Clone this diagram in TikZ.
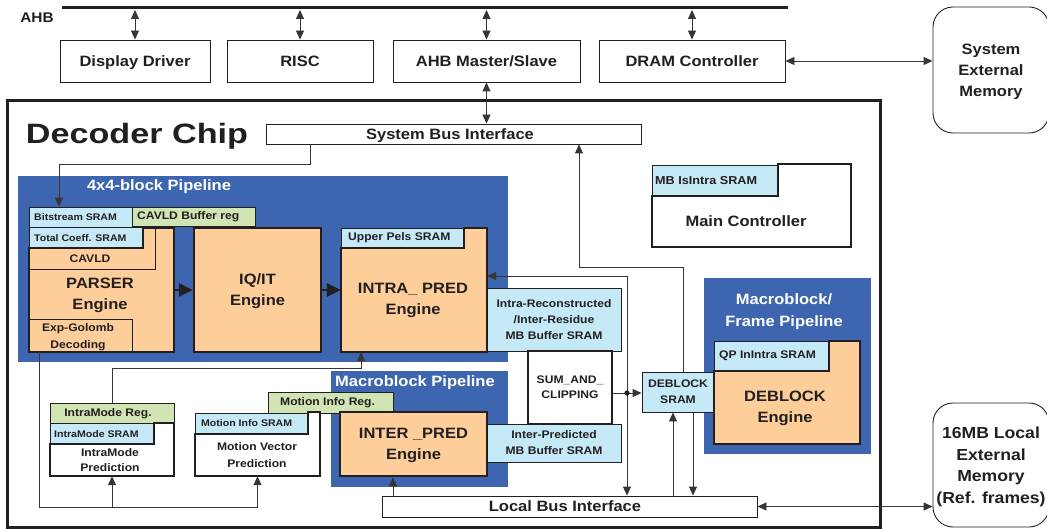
\documentclass[tikz,border=0pt]{standalone}
\usepackage{graphicx}
\usepackage{fontspec}
\setmainfont{Liberation Sans}[FakeStretch=1.1]
\usetikzlibrary{arrows.meta}
\definecolor{pblue}{HTML}{3E66B0}
\definecolor{lblue}{HTML}{C6E9F8}
\definecolor{lgreen}{HTML}{D1E4B3}
\definecolor{orng}{HTML}{FDCE9A}
\definecolor{ink}{HTML}{231F20}
\newcommand\fbig{\fontsize{15}{21}\selectfont\bfseries}
\newcommand\fmed{\fontsize{11}{16}\selectfont\bfseries}
\newcommand\fsml{\fontsize{9.6}{12}\selectfont\bfseries}
\begin{document}
\begin{tikzpicture}[x=1pt,y=-1pt,
  corners/.style n args={4}{at={({(#1+#3)/2},{(#2+#4)/2})},
     minimum width={(#3-#1)*1pt}, minimum height={(#4-#2)*1pt}},
  box/.style={draw=ink, line width=0.9pt, inner sep=0pt, align=center, text=ink, text depth=0pt},
  panel/.style={fill=pblue, inner sep=0pt},
  body/.style={inner sep=0pt},
  heavy/.style={draw=ink, line width=2.5pt, line join=miter},
  wire/.style={draw=ink!90, line width=0.9pt},
  arr/.style={wire, -{Triangle[length=9pt,width=8pt]}},
  darr/.style={wire, {Triangle[length=9pt,width=8pt]}-{Triangle[length=9pt,width=8pt]}},
  bigarr/.style={draw=ink, line width=2.6pt, -{Triangle[length=14pt,width=13pt]}},
  txt/.style={inner sep=0pt, align=center, text=ink, font=\fbig, text depth=0pt},
  ltxt/.style={inner sep=0pt, anchor=west, text=ink},
  wtxt/.style={inner sep=0pt, align=center, text=white, font=\fbig, text depth=0pt}]
\useasboundingbox (0,0) rectangle (1047,529);

% ---------- AHB bus and top row ----------
\node[txt, font=\fontsize{14}{16}\selectfont\bfseries] (ahblbl) at (37,18) {AHB};
\coordinate (busL) at (62,8);
\coordinate (busR) at (788,8);
\draw[ink, line width=3pt] (busL) -- (busR);
\coordinate (bus) at (0,10);

\node[box, corners={60}{40}{210}{82}, font=\fbig] (dd) {Display Driver};
\node[box, corners={227}{40}{373}{82}, font=\fbig] (risc) {RISC};
\node[box, corners={393}{40}{580}{82}, font=\fbig] (ahbms) {AHB Master/Slave};
\node[box, corners={599}{40}{785}{82}, font=\fbig] (dram) {DRAM Controller};
\node[box, rounded corners=20pt, corners={933}{7}{1049}{133}, font=\fbig] (sem) {System\\External\\Memory};

% ---------- Decoder chip frame ----------
\node[draw=ink, line width=3pt, inner sep=0pt, corners={7}{101}{880}{527}] (chip) {};
\node[txt, font=\fontsize{28}{30}\selectfont\bfseries] (title) at (137,133) {\scalebox{1.11}[1]{Decoder Chip}};
\node[box, corners={266}{124}{641}{144}] (sbi) {};
\node[txt] (sbitxt) at (450,134) {System Bus Interface};

% ---------- blue panels ----------
\node[panel, corners={18}{176}{508}{362}] (p44) {};
\node[wtxt] (p44t) at (159,185) {4x4-block Pipeline};
\node[panel, corners={704}{278}{871}{454}] (mfp) {};
\node[wtxt, font=\fontsize{15}{22}\selectfont\bfseries] (mfpt) at (784,310) {Macroblock/\\Frame Pipeline};
\node[panel, corners={331}{371}{508}{487}] (mbp) {};
\node[wtxt, anchor=west] (mbpt) at (335,381) {Macroblock Pipeline};

% ---------- PARSER ----------
\node[box, fill=lblue, corners={29}{207}{132}{227}] (bs) {};
\node[ltxt, font=\fsml] (bst) at (34,217) {Bitstream SRAM};
\node[box, fill=lgreen, corners={132}{207}{255}{226}] (cbr) {};
\node[ltxt, font=\fmed] (cbrt) at (137,216.5) {CAVLD Buffer reg};
\fill[orng] (29,248) -- (143,248) -- (143,228) -- (174,228) -- (174,352) -- (29,352) -- cycle;
\node[box, fill=orng, corners={29}{228}{155}{269}] (cavld) {};
\node[txt, font=\fmed] (cavldt) at (90,258.5) {CAVLD};
\node[box, fill=lblue, corners={29}{227}{143}{248}] (tc) {};
\node[ltxt, font=\fsml] (tct) at (34,238) {Total Coeff. SRAM};
\node[box, fill=orng, corners={29}{319}{132}{352}] (eg) {};
\node[txt, font=\fontsize{11}{17}\selectfont\bfseries] (egt) at (78,336) {Exp-Golomb\\Decoding};
\draw[heavy] (29,248) -- (143,248) -- (143,228) -- (174,228) -- (174,352) -- (29,352) -- cycle;
\node[body, corners={29}{228}{174}{352}] (parser) {};
\node[txt] (parsert) at (100,294) {PARSER\\Engine};

% ---------- IQ/IT ----------
\node[box, heavy, fill=orng, corners={194}{228}{321}{352}, font=\fbig] (iqit) {IQ/IT\\Engine};

% ---------- INTRA_PRED ----------
\fill[orng] (341,248) -- (464,248) -- (464,228) -- (487,228) -- (487,352) -- (341,352) -- cycle;
\node[box, fill=lblue, corners={341}{228}{464}{248}] (ups) {};
\node[ltxt, font=\fmed] (upst) at (348,238) {Upper Pels SRAM};
\draw[heavy] (341,248) -- (464,248) -- (464,228) -- (487,228) -- (487,352) -- (341,352) -- cycle;
\node[body, corners={341}{228}{487}{352}] (intra) {};
\node[txt] (intrat) at (413,298.5) {INTRA\_ PRED\\Engine};

% ---------- buffers, sum & clipping ----------
\node[box, fill=lblue, corners={487}{288}{621}{351}, font=\fmed] (irb) {Intra-Reconstructed\\/Inter-Residue\\MB Buffer SRAM};
\node[box, heavy, fill=white, corners={528}{351}{612}{424}, font=\fontsize{11}{15}\selectfont\bfseries] (sac) {SUM\_AND\_\\CLIPPING};
\node[box, fill=lblue, corners={487}{424}{621}{462}, font=\fmed] (ipb) {Inter-Predicted\\MB Buffer SRAM};

% ---------- DEBLOCK ----------
\node[box, fill=lblue, corners={642}{372}{714}{412}, font=\fmed] (dbs) {DEBLOCK\\SRAM};
\fill[orng] (714,371) -- (829,371) -- (829,341) -- (860,341) -- (860,444) -- (714,444) -- cycle;
\node[box, fill=lblue, corners={714}{341}{829}{371}] (qp) {};
\node[ltxt, font=\fmed] (qpt) at (719,356) {QP InIntra SRAM};
\draw[heavy] (714,371) -- (829,371) -- (829,341) -- (860,341) -- (860,444) -- (714,444) -- cycle;
\node[body, corners={714}{341}{860}{444}] (deb) {};
\node[txt] (debt) at (785,407) {DEBLOCK\\Engine};

% ---------- Main controller ----------
\fill[white] (652,196) -- (778,196) -- (778,164) -- (851,164) -- (851,247) -- (652,247) -- cycle;
\node[box, fill=lblue, corners={652}{165}{778}{196}] (mbi) {};
\node[ltxt, font=\fontsize{11.5}{14}\selectfont\bfseries] (mbit) at (655,181) {MB IsIntra SRAM};
\draw[heavy] (652,196) -- (778,196) -- (778,164) -- (851,164) -- (851,247) -- (652,247) -- cycle;
\node[body, corners={652}{164}{851}{247}] (mc) {};
\node[txt] (mct) at (746,221) {Main Controller};

% ---------- IntraMode prediction ----------
\node[box, fill=lgreen, corners={50}{403}{174}{423}] (imr) {};
\node[txt, font=\fmed] (imrt) at (108,413) {IntraMode Reg.};
\fill[white] (50,444) -- (154,444) -- (154,423) -- (174,423) -- (174,476) -- (50,476) -- cycle;
\node[box, fill=lblue, corners={50}{423}{154}{444}] (ims) {};
\node[ltxt, font=\fsml] (imst) at (54,434) {IntraMode SRAM};
\draw[heavy] (50,444) -- (154,444) -- (154,423) -- (174,423) -- (174,476) -- (50,476) -- cycle;
\node[body, corners={50}{423}{174}{476}] (imp) {};
\node[txt, font=\fontsize{11}{15}\selectfont\bfseries] (impt) at (110,460) {IntraMode\\Prediction};

% ---------- Motion vector prediction ----------
\node[box, fill=lgreen, corners={268}{392}{393}{413}] (mir) {};
\node[ltxt, font=\fmed] (mirt) at (280,402.5) {Motion Info Reg.};
\fill[white] (195,434) -- (308,434) -- (308,412) -- (320,412) -- (320,476) -- (195,476) -- cycle;
\node[box, fill=lblue, corners={195}{413}{308}{434}] (mis) {};
\node[ltxt, font=\fsml] (mist) at (201,423.5) {Motion Info SRAM};
\draw[heavy] (195,434) -- (308,434) -- (308,412) -- (320,412) -- (320,476) -- (195,476) -- cycle;
\node[body, corners={195}{412}{320}{476}] (mvp) {};
\node[txt, font=\fontsize{11}{17}\selectfont\bfseries] (mvpt) at (257,455) {Motion Vector\\Prediction};

% ---------- INTER_PRED ----------
\node[box, heavy, fill=orng, corners={340}{412}{487}{476}, font=\fbig] (inter) {INTER \_PRED\\Engine};

% ---------- Local bus & local memory ----------
\node[box, corners={382}{496}{757}{517}] (lbi) {};
\node[txt] (lbit) at (565,506.5) {Local Bus Interface};
\node[box, rounded corners=20pt, corners={933}{403}{1049}{527}, font=\fontsize{16}{21.5}\selectfont\bfseries] (lem) {16MB Local\\External\\Memory\\(Ref. frames)};

% ---------- connectors ----------
\draw[darr] (dd.north |- bus) -- (dd.north);
\draw[darr] (risc.north |- bus) -- (risc.north);
\draw[darr] (ahbms.north |- bus) -- (ahbms.north);
\draw[darr] (dram.north |- bus) -- (dram.north);
\draw[darr] (dram.east) -- (dram.east -| sem.west);
\draw[darr] (ahbms.south) -- (sbi.north -| ahbms.south);

\draw[arr] (sbi.south -| 310,0) |- (59,164) -- (bs.north -| 59,0);

\draw[bigarr] (parser.east) -- (iqit.west);
\draw[bigarr] (iqit.east) -- (intra.west);

\coordinate (jn) at (627,393);
\draw[wire] (sac.east |- jn) -- (jn);
\draw[arr] (jn) -- (dbs.west |- jn);
\draw[arr] (jn) |- ([yshift=14pt]intra.east);
\draw[arr] (jn) -- (lbi.north -| jn);
\fill[ink] (jn) circle (2.6pt);

\draw[arr] (dbs.north -| 683,0) |- (579,267) -- (sbi.south -| 579,0);
\draw[arr] (lbi.north -| 673,0) -- (dbs.south -| 673,0);
\draw[arr] (dbs.south -| 693,0) -- (lbi.north -| 693,0);
\draw[arr] (lbi.north -| 393,0) -- (inter.south -| 393,0);
\draw[darr] (lbi.east) -- (lbi.east -| lem.west);

\coordinate (bl) at (39,507);
\draw[wire] (eg.south -| bl) -- (bl) -- (bl -| mvp.south);
\draw[arr] (bl -| imp.south) -- (imp.south);
\draw[arr] (bl -| mvp.south) -- (mvp.south);
\draw[arr] (imr.north) |- (361,368) -- (intra.south -| 361,0);
\end{tikzpicture}
\end{document}
